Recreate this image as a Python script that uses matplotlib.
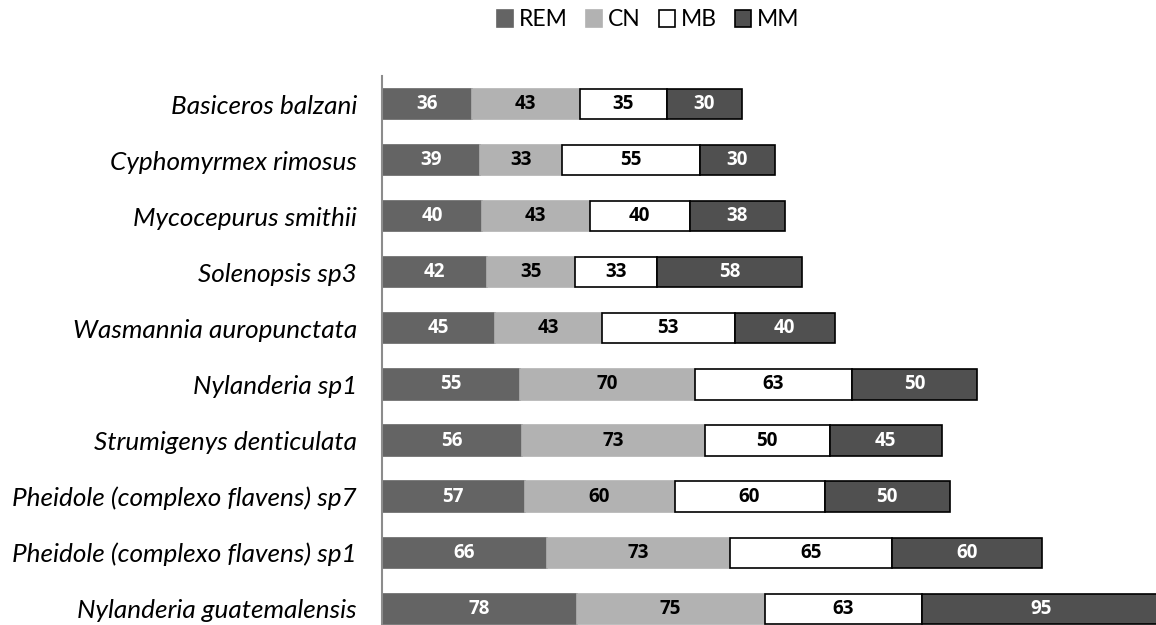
import matplotlib
matplotlib.use("Agg")
import matplotlib.pyplot as plt
from matplotlib.patches import Patch

species = [
    "Basiceros balzani",
    "Cyphomyrmex rimosus",
    "Mycocepurus smithii",
    "Solenopsis sp3",
    "Wasmannia auropunctata",
    "Nylanderia sp1",
    "Strumigenys denticulata",
    "Pheidole (complexo flavens) sp7",
    "Pheidole (complexo flavens) sp1",
    "Nylanderia guatemalensis",
]
rem = [36, 39, 40, 42, 45, 55, 56, 57, 66, 78]
cn = [43, 33, 43, 35, 43, 70, 73, 60, 73, 75]
mb = [35, 55, 40, 33, 53, 63, 50, 60, 65, 63]
mm = [30, 30, 38, 58, 40, 50, 45, 50, 60, 95]

series = [
    ("REM", rem, "#646464", "#646464", "white"),
    ("CN", cn, "#b2b2b2", "#b2b2b2", "black"),
    ("MB", mb, "#ffffff", "#000000", "black"),
    ("MM", mm, "#505050", "#000000", "white"),
]

font = "Lato"
bold_font = "Open Sans"
fig = plt.figure(figsize=(11.56, 6.25), dpi=100)
ax = fig.add_axes([382 / 1156, 0.0, 1 - 382 / 1156, 1 - 76 / 625])

ypos = list(range(len(species)))
left = [0] * len(species)
for name, vals, fc, ec, tc in series:
    bars = ax.barh(ypos, vals, left=left, height=0.54, color=fc,
                   edgecolor=ec, linewidth=1.2, label=name)
    for b, v in zip(bars, vals):
        ax.text(b.get_x() + b.get_width() / 2, b.get_y() + b.get_height() / 2,
                str(v), ha="center", va="center", color=tc,
                fontsize=13.5, fontweight="bold", family=bold_font)
    left = [l + v for l, v in zip(left, vals)]

ax.set_xlim(0, (1156 - 382) / 2.5)
ax.set_ylim(9.29, -0.5)
ax.set_yticks(ypos)
ax.set_yticklabels(species, fontsize=18.8, fontstyle="italic", family=font)
ax.tick_params(axis="y", length=0, pad=18)
ax.set_xticks([])
for s in ["top", "right", "bottom"]:
    ax.spines[s].set_visible(False)
ax.spines["left"].set_color("#8c8c8c")
ax.spines["left"].set_linewidth(1.5)

handles = [Patch(facecolor=fc, edgecolor=ec, linewidth=1.2, label=n)
           for n, _, fc, ec, _ in series]
fig.legend(handles=handles, loc="center", bbox_to_anchor=(648 / 1156, 1 - 20 / 625),
           ncol=4, frameon=False, handlelength=0.7, handleheight=0.7,
           handletextpad=0.25, columnspacing=0.8,
           prop={"family": font, "size": 16.5})

fig.savefig("out.png", dpi=100)
